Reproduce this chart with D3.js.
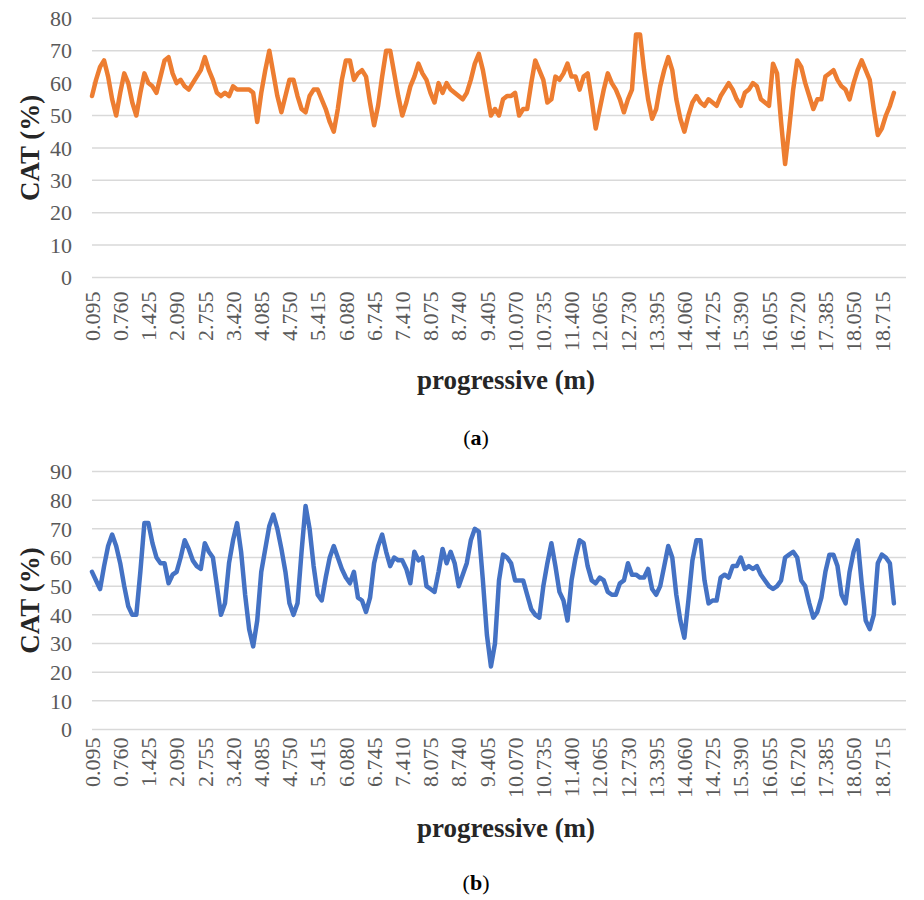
<!DOCTYPE html>
<html>
<head>
<meta charset="utf-8">
<script src="https://cdnjs.cloudflare.com/ajax/libs/d3/7.8.5/d3.min.js"></script>
<style>
	body { margin: 0; background: #fff; }
	text { font-family: "Liberation Serif", "Times New Roman", serif; }
</style>
</head>
<body>
<svg id="chart" width="924" height="900"></svg>
<script>
// distance between two readings (m)
var catStep = 0.095;

var tickLabels = ["0.095", "0.760", "1.425", "2.090", "2.755", "3.420", "4.085", "4.750",
	"5.415", "6.080", "6.745", "7.410", "8.075", "8.740", "9.405", "10.070", "10.735",
	"11.400", "12.065", "12.730", "13.395", "14.060", "14.725", "15.390", "16.055",
	"16.720", "17.385", "18.050", "18.715"];

var yTicksA = [0, 10, 20, 30, 40, 50, 60, 70, 80];
var yTicksB = [0, 10, 20, 30, 40, 50, 60, 70, 80, 90];

// CAT (%) panel (a)
var catA = [
	56, 61, 65, 67, 62, 55, 50, 57, 63, 60,
	54, 50, 57, 63, 60, 59, 57, 62, 67, 68,
	63, 60, 61, 59, 58, 60, 62, 64, 68, 64,
	61, 57, 56, 57, 56, 59, 58, 58, 58, 58,
	57, 48, 57, 64, 70, 63, 56, 51, 56, 61,
	61, 56, 52, 51, 56, 58, 58, 55, 52, 48,
	45, 52, 61, 67, 67, 61, 63, 64, 62, 54,
	47, 53, 62, 70, 70, 63, 56, 50, 54, 59,
	62, 66, 63, 61, 57, 54, 60, 57, 60, 58,
	57, 56, 55, 57, 61, 66, 69, 64, 57, 50,
	52, 50, 55, 56, 56, 57, 50, 52, 52, 60,
	67, 64, 61, 54, 55, 62, 61, 63, 66, 62,
	62, 58, 62, 63, 55, 46, 52, 58, 63, 60,
	58, 55, 51, 55, 58, 75, 75, 64, 55, 49,
	52, 59, 64, 68, 64, 55, 49, 45, 50, 54,
	56, 54, 53, 55, 54, 53, 56, 58, 60, 58,
	55, 53, 57, 58, 60, 59, 55, 54, 53, 66,
	63, 48, 35, 46, 58, 67, 65, 60, 56, 52,
	55, 55, 62, 63, 64, 61, 59, 58, 55, 60,
	64, 67, 64, 61, 52, 44, 46, 50, 53, 57
];

// CAT (%) panel (b)
var catB = [
	55, 52, 49, 57, 64, 68, 64, 58, 50, 43,
	40, 40, 55, 72, 72, 65, 60, 58, 58, 51,
	54, 55, 60, 66, 63, 59, 57, 56, 65, 62,
	60, 50, 40, 44, 58, 66, 72, 62, 47, 35,
	29, 38, 55, 63, 71, 75, 70, 63, 55, 44,
	40, 44, 62, 78, 70, 57, 47, 45, 53, 60,
	64, 60, 56, 53, 51, 55, 46, 45, 41, 46,
	58, 64, 68, 62, 57, 60, 59, 59, 56, 51,
	62, 59, 60, 50, 49, 48, 55, 63, 58, 62,
	58, 50, 54, 58, 66, 70, 69, 52, 33, 22,
	30, 52, 61, 60, 58, 52, 52, 52, 47, 42,
	40, 39, 50, 58, 65, 57, 48, 45, 38, 52,
	60, 66, 65, 57, 52, 51, 53, 52, 48, 47,
	47, 51, 52, 58, 54, 54, 53, 53, 56, 49,
	47, 50, 57, 64, 60, 47, 38, 32, 45, 59,
	66, 66, 52, 44, 45, 45, 53, 54, 53, 57,
	57, 60, 56, 57, 56, 57, 54, 52, 50, 49,
	50, 52, 60, 61, 62, 60, 52, 50, 44, 39,
	41, 46, 55, 61, 61, 57, 47, 44, 55, 62,
	66, 51, 38, 35, 40, 58, 61, 60, 58, 44
];

var xScale = d3.scaleLinear()
	.domain([catStep, catStep * 203])
	.range([92, 906]);

var svg = d3.select("#chart");

function drawPanel(p) {
	var yScale = d3.scaleLinear().domain([0, p.max]).range([p.bottom, p.top]);
	var g = svg.append("g");

	// horizontal gridlines
	g.selectAll(".grid")
		.data(p.yTicks)
		.enter().append("line")
		.attr("x1", xScale.range()[0])
		.attr("x2", xScale.range()[1])
		.attr("y1", function(d) { return yScale(d); })
		.attr("y2", function(d) { return yScale(d); })
		.attr("stroke", "#d9d9d9")
		.attr("stroke-width", 1.5);

	// y tick labels
	g.selectAll(".yLabel")
		.data(p.yTicks)
		.enter().append("text")
		.attr("x", 72)
		.attr("y", function(d) { return yScale(d); })
		.attr("dy", "0.35em")
		.attr("text-anchor", "end")
		.attr("font-size", 22)
		.attr("fill", "#595959")
		.text(function(d) { return d; });

	// x tick labels, rotated
	g.selectAll(".xLabel")
		.data(tickLabels)
		.enter().append("text")
		.attr("transform", function(d) {
			return "translate(" + xScale(+d) + "," + (p.bottom + p.labelGap) + ") rotate(-90)";
		})
		.attr("dy", "0.35em")
		.attr("text-anchor", "end")
		.attr("font-size", 22)
		.attr("fill", "#595959")
		.text(function(d) { return d; });

	var line = d3.line()
		.x(function(d, i) { return xScale((i + 1) * catStep); })
		.y(function(d) { return yScale(d); });

	g.append("path")
		.datum(p.values)
		.attr("d", line)
		.attr("fill", "none")
		.attr("stroke", p.color)
		.attr("stroke-width", 4.5)
		.attr("stroke-linejoin", "round")
		.attr("stroke-linecap", "round");

	// axis titles
	g.append("text")
		.attr("transform", "translate(39," + ((p.top + p.bottom) / 2) + ") rotate(-90)")
		.attr("text-anchor", "middle")
		.attr("font-size", 27)
		.attr("font-weight", "bold")
		.attr("fill", "#262626")
		.text("CAT (%)");

	g.append("text")
		.attr("x", 506)
		.attr("y", p.bottom + p.titleGap)
		.attr("text-anchor", "middle")
		.attr("font-size", 27)
		.attr("font-weight", "bold")
		.attr("fill", "#262626")
		.text("progressive (m)");

	// panel letter
	var cap = g.append("text")
		.attr("x", 476)
		.attr("y", p.bottom + p.letterGap)
		.attr("text-anchor", "middle")
		.attr("font-size", 22)
		.attr("fill", "#000");
	cap.append("tspan").text("(");
	cap.append("tspan").attr("font-weight", "bold").text(p.letter);
	cap.append("tspan").text(")");
}

drawPanel({ values: catA, yTicks: yTicksA, max: 80, top: 18.3, bottom: 277.5, color: "#ed7d31",
	letter: "a", labelGap: 14, titleGap: 111, letterGap: 167 });
drawPanel({ values: catB, yTicks: yTicksB, max: 90, top: 471.5, bottom: 729.5, color: "#4472c4",
	letter: "b", labelGap: 8, titleGap: 107, letterGap: 160 });
</script>
</body>
</html>
